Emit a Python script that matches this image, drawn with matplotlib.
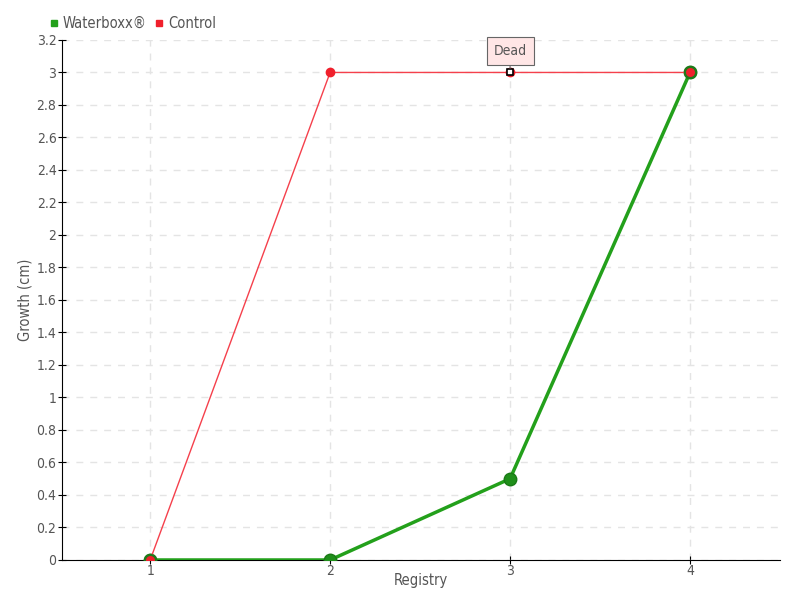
import numpy as np
import matplotlib
matplotlib.use("Agg")
import matplotlib.pyplot as plt
from matplotlib.lines import Line2D

registry = [1, 2, 3, 4]
waterboxx = [0, 0, 0.5, 3]
control = [0, 3, 3, 3]
dead_idx = 2
y_ticks = [0, 0.2, 0.4, 0.6, 0.8, 1, 1.2, 1.4, 1.6, 1.8, 2, 2.2, 2.4, 2.6, 2.8, 3, 3.2]
y_labels = ["0", "0.2", "0.4", "0.6", "0.8", "1", "1.2", "1.4", "1.6", "1.8",
            "2", "2.2", "2.4", "2.6", "2.8", "3", "3.2"]

green = "#23a01b"
red = "#f0202c"
txt = "#555555"

plt.rcParams["font.family"] = ["DejaVu Sans"]
plt.rcParams["font.stretch"] = "condensed"

fig = plt.figure(figsize=(8, 6), dpi=100)
ax = fig.add_axes([0.0775, 0.0667, 0.8975, 0.8667])

ax.plot(registry, waterboxx, color=green, lw=2.5, marker="o", ms=9,
        markerfacecolor="#1f8f1a", markeredgecolor="#1a7a16", zorder=3)
ax.plot(registry, control, color="#f5404c", lw=1, marker="o", ms=6,
        markerfacecolor=red, markeredgecolor=red, zorder=4)
# red marker on top of the overlapping green markers
ax.plot([registry[0], registry[3]], [control[0], control[3]], ls="none",
        marker="o", ms=8, markerfacecolor=red, markeredgecolor="#1f7a1a",
        markeredgewidth=1.5, zorder=5)
ax.plot(registry[dead_idx], control[dead_idx], ls="none", marker="s", ms=5,
        markerfacecolor="white", markeredgecolor="black", markeredgewidth=1.2,
        zorder=6)

ax.annotate("Dead", xy=(registry[dead_idx], control[dead_idx]),
            xytext=(0, 15.5), textcoords="offset points", ha="center",
            va="center", fontsize=10, color=txt,
            bbox=dict(boxstyle="square,pad=0.5", fc="#ffe6e6", ec="#666666", lw=0.8),
            arrowprops=dict(arrowstyle="-", color="#666666", lw=0.8,
                            shrinkA=0, shrinkB=3),
            zorder=7)

ax.set_xlim(0.51, 4.5)
ax.set_ylim(0, 3.2)
ax.set_xticks(registry)
ax.set_xticklabels([str(r) for r in registry])
ax.set_yticks(y_ticks)
ax.set_yticklabels(y_labels)

ax.grid(True, color="#e4e4e4", ls=(0, (5, 5)), lw=1)
ax.set_axisbelow(True)
for s in ["top", "right"]:
    ax.spines[s].set_visible(False)
ax.spines["left"].set_color("black")
ax.spines["bottom"].set_color("black")
ax.tick_params(axis="both", direction="inout", length=6, colors="black",
               labelcolor=txt, labelsize=10)
ax.tick_params(axis="x", pad=0)
ax.tick_params(axis="y", pad=1)

ax.set_xlabel("Registry", color=txt, fontsize=10.5)
ax.xaxis.set_label_coords(0.5, -0.025)
ax.set_ylabel("Growth (cm)", color=txt, fontsize=10.5)
ax.yaxis.set_label_coords(-0.041, 0.5)

handles = [Line2D([], [], ls="none", marker="s", ms=5, color=green),
           Line2D([], [], ls="none", marker="s", ms=5, color=red)]
leg = fig.legend(handles, ["Waterboxx®", "Control"], loc="upper left",
                 bbox_to_anchor=(0.045, 0.995), ncol=2, frameon=False,
                 handlelength=0.6, handletextpad=0.3, columnspacing=0.6,
                 fontsize=10.5)
for t in leg.get_texts():
    t.set_color(txt)

fig.savefig("out.png", dpi=100)
